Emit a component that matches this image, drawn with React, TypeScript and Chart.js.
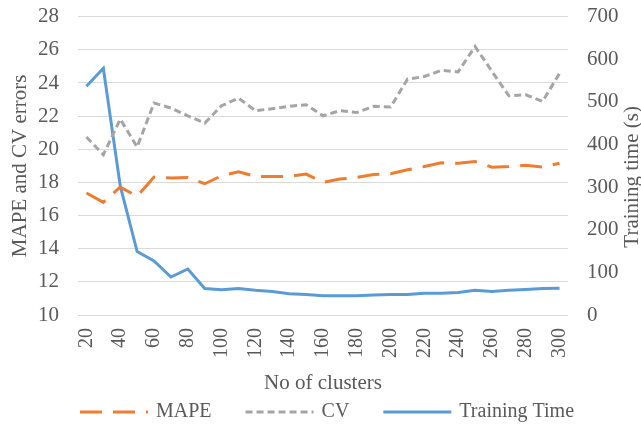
import React, { useEffect, useRef } from "react";
import { Chart, registerables } from "chart.js";

Chart.register(...registerables);

const clusters = [20, 30, 40, 50, 60, 70, 80, 90, 100, 110, 120, 130, 140, 150, 160, 170, 180, 190, 200, 210, 220, 230, 240, 250, 260, 270, 280, 290, 300];
const mape = [17.36, 16.8, 17.72, 17.16, 18.32, 18.26, 18.3, 17.92, 18.4, 18.64, 18.36, 18.36, 18.36, 18.5, 18.0, 18.2, 18.3, 18.48, 18.52, 18.76, 18.96, 19.18, 19.16, 19.26, 18.92, 18.96, 19.04, 18.92, 19.16];
const cv = [20.74, 19.67, 21.82, 20.14, 22.79, 22.49, 22.02, 21.58, 22.63, 23.09, 22.33, 22.45, 22.59, 22.69, 22.02, 22.33, 22.22, 22.59, 22.55, 24.23, 24.39, 24.76, 24.67, 26.2, 24.7, 23.23, 23.29, 22.89, 24.59];
const trainingTime = [537, 579, 303, 149, 127, 89, 108, 62, 59, 62, 58, 55, 50, 48, 45, 45, 45, 47, 48, 48, 51, 51, 53, 58, 55, 58, 60, 62, 63];

const seriesNames = ["MAPE", "CV", "Training Time"];
const xTitle = "No of clusters";
const leftTitle = "MAPE and CV errors";
const rightTitle = "Training time (s)";

const FONT = '"Liberation Serif", "Times New Roman", serif';
const TEXT = "#595959";

const rightTitlePlugin = {
  id: "rightTitle",
  afterDraw(chart: any) {
    const ctx = chart.ctx;
    const area = chart.chartArea;
    ctx.save();
    ctx.translate(632, (area.top + area.bottom) / 2 + 11);
    ctx.rotate(-Math.PI / 2);
    ctx.font = `21px ${FONT}`;
    ctx.fillStyle = TEXT;
    ctx.textAlign = "center";
    ctx.textBaseline = "middle";
    ctx.fillText(rightTitle, 0, 0);
    ctx.restore();
  },
};

const customLegendPlugin = {
  id: "customLegend",
  afterDraw(chart: any) {
    const ctx = chart.ctx;
    const boxW = 68;
    const gapText = 8;
    const gapItem = 34;
    const y = 412;
    ctx.save();
    ctx.font = `20px ${FONT}`;
    const items = chart.data.datasets.map((ds: any) => ({
      ds,
      tw: ctx.measureText(ds.label).width,
    }));
    const total = items.reduce((s: number, it: any) => s + boxW + gapText + it.tw, 0) + gapItem * (items.length - 1);
    let x = 327 - total / 2;
    for (const it of items) {
      ctx.beginPath();
      ctx.setLineDash(it.ds.borderDash || []);
      ctx.lineWidth = it.ds.borderWidth;
      ctx.strokeStyle = it.ds.borderColor;
      ctx.lineCap = "butt";
      ctx.moveTo(x, y);
      ctx.lineTo(x + boxW, y);
      ctx.stroke();
      ctx.setLineDash([]);
      ctx.fillStyle = TEXT;
      ctx.textAlign = "left";
      ctx.textBaseline = "middle";
      ctx.fillText(it.ds.label, x + boxW + gapText, y);
      x += boxW + gapText + it.tw + gapItem;
    }
    ctx.restore();
  },
};

export default function App() {
  const ref = useRef<HTMLCanvasElement>(null);

  useEffect(() => {
    document.body.style.margin = "0";
    const canvas = ref.current;
    if (!canvas) return;
    const chart = new Chart(canvas, {
      type: "line",
      data: {
        labels: clusters,
        datasets: [
          {
            label: seriesNames[0],
            data: mape,
            yAxisID: "y",
            borderColor: "#ED7D31",
            backgroundColor: "#ED7D31",
            borderWidth: 3,
            borderDash: [22, 11],
            pointRadius: 0,
            tension: 0,
          },
          {
            label: seriesNames[1],
            data: cv,
            yAxisID: "y",
            borderColor: "#A5A5A5",
            backgroundColor: "#A5A5A5",
            borderWidth: 3,
            borderDash: [7, 4],
            pointRadius: 0,
            tension: 0,
          },
          {
            label: seriesNames[2],
            data: trainingTime,
            yAxisID: "y1",
            borderColor: "#5B9BD5",
            backgroundColor: "#5B9BD5",
            borderWidth: 3,
            pointRadius: 0,
            tension: 0,
          },
        ],
      },
      options: {
        responsive: false,
        animation: false,
        layout: { padding: { top: 16.7, left: 0, right: 0, bottom: 29.4 } },
        plugins: {
          legend: { display: false },
          tooltip: { enabled: false },
          title: { display: false },
        },
        scales: {
          x: {
            offset: true,
            grid: { display: false, drawTicks: false },
            border: { display: false },
            ticks: {
              autoSkip: false,
              maxRotation: 90,
              minRotation: 90,
              padding: 13,
              color: TEXT,
              font: { family: FONT, size: 20 },
              callback: function (this: any, value: any, index: number) {
                const v = clusters[index];
                return v % 20 === 0 ? String(v) : "";
              },
            },
            title: {
              display: true,
              text: xTitle,
              color: TEXT,
              font: { family: FONT, size: 21 },
              padding: { top: 0, bottom: 0 },
            },
            afterFit(scale: any) {
              scale.height = 80.6;
              scale.paddingLeft = 0;
              scale.paddingRight = 0;
            },
          },
          y: {
            position: "left",
            min: 10,
            max: 28,
            grid: { color: "#D9D9D9", lineWidth: 1, drawTicks: false },
            border: { display: false },
            ticks: {
              stepSize: 2,
              autoSkip: false,
              padding: 19,
              color: TEXT,
              font: { family: FONT, size: 21 },
            },
            title: {
              display: true,
              text: leftTitle,
              color: TEXT,
              font: { family: FONT, size: 21 },
              padding: { top: 8, bottom: 0 },
            },
            afterFit(scale: any) {
              scale.width = 78;
              scale.paddingTop = 0;
              scale.paddingBottom = 0;
            },
          },
          y1: {
            position: "right",
            min: 0,
            max: 700,
            grid: { drawOnChartArea: false, drawTicks: false },
            border: { display: false },
            ticks: {
              stepSize: 100,
              autoSkip: false,
              padding: 19,
              color: TEXT,
              font: { family: FONT, size: 21 },
            },
            afterFit(scale: any) {
              scale.width = 73;
              scale.paddingTop = 0;
              scale.paddingBottom = 0;
            },
          },
        },
      },
      plugins: [rightTitlePlugin, customLegendPlugin],
    });
    return () => chart.destroy();
  }, []);

  return (
    <div style={{ width: 641, height: 425 }}>
      <canvas ref={ref} width={641} height={425} />
    </div>
  );
}
